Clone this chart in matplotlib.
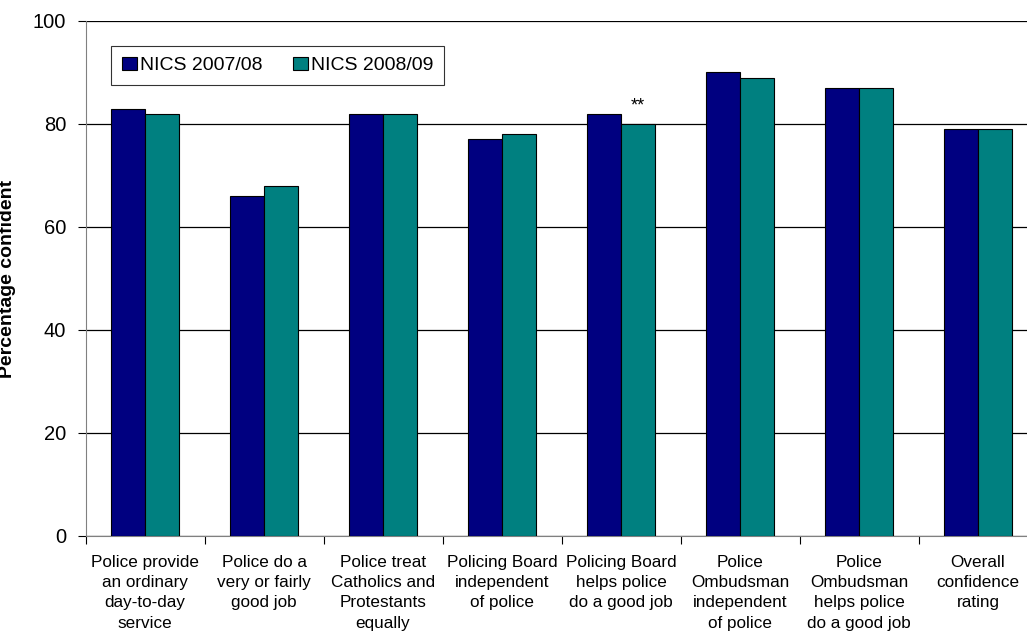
import numpy as np
import matplotlib.pyplot as plt

plt.rcParams['font.family'] = ['Liberation Sans', 'DejaVu Sans']

categories = [
    "Police provide\nan ordinary\nday-to-day\nservice",
    "Police do a\nvery or fairly\ngood job",
    "Police treat\nCatholics and\nProtestants\nequally",
    "Policing Board\nindependent\nof police",
    "Policing Board\nhelps police\ndo a good job",
    "Police\nOmbudsman\nindependent\nof police",
    "Police\nOmbudsman\nhelps police\ndo a good job",
    "Overall\nconfidence\nrating",
]
nics_0708 = [83, 66, 82, 77, 82, 90, 87, 79]
nics_0809 = [82, 68, 82, 78, 80, 89, 87, 79]
series_labels = ["NICS 2007/08", "NICS 2008/09"]

fig = plt.figure(figsize=(10.27, 6.35), dpi=100)
# plot area runs slightly past the right edge of the image, as in the original
ax = fig.add_axes([0.0833, 0.156, 0.927, 0.811])

x = np.arange(len(categories))
w = 0.286
ax.bar(x - w / 2, nics_0708, w, color='#000080', edgecolor='black', linewidth=0.8,
       label=series_labels[0], zorder=3)
ax.bar(x + w / 2, nics_0809, w, color='#008080', edgecolor='black', linewidth=0.8,
       label=series_labels[1], zorder=3)

# significance marker
ax.text(x[4] + w / 2, nics_0809[4] + 3.4, "**", ha='center', va='center', fontsize=13)

ax.set_xlim(-0.5, len(categories) - 0.5)
ax.set_ylim(0, 100)
ax.set_yticks([0, 20, 40, 60, 80, 100])
ax.tick_params(axis='y', labelsize=14.5, length=6, direction='out', pad=8)
ax.yaxis.grid(True, color='black', linewidth=0.9, zorder=0)
ax.set_axisbelow(True)

ax.set_xticks(np.arange(len(categories) + 1) - 0.5)
ax.set_xticklabels([])
ax.set_xticks(x, minor=True)
ax.set_xticklabels(categories, minor=True, fontsize=12.3, linespacing=1.42)
ax.tick_params(axis='x', which='major', length=6, direction='out')
ax.tick_params(axis='x', which='minor', length=0, pad=14)

ax.set_ylabel("Percentage confident", fontsize=14, fontweight='bold')
ax.yaxis.set_label_coords(-0.073, 0.5)

for side in ['top', 'right']:
    ax.spines[side].set_visible(False)
ax.spines['left'].set_color('#808080')
ax.spines['bottom'].set_color('#808080')

leg = ax.legend(loc='upper left', bbox_to_anchor=(0.0268, 0.951), ncol=2, fontsize=14,
                frameon=True, fancybox=False, edgecolor='black', handlelength=0.77,
                handleheight=0.7, handletextpad=0.15, columnspacing=1.6,
                borderpad=0.55, borderaxespad=0)
leg.get_frame().set_linewidth(0.8)

fig.savefig("out.png", dpi=100)
